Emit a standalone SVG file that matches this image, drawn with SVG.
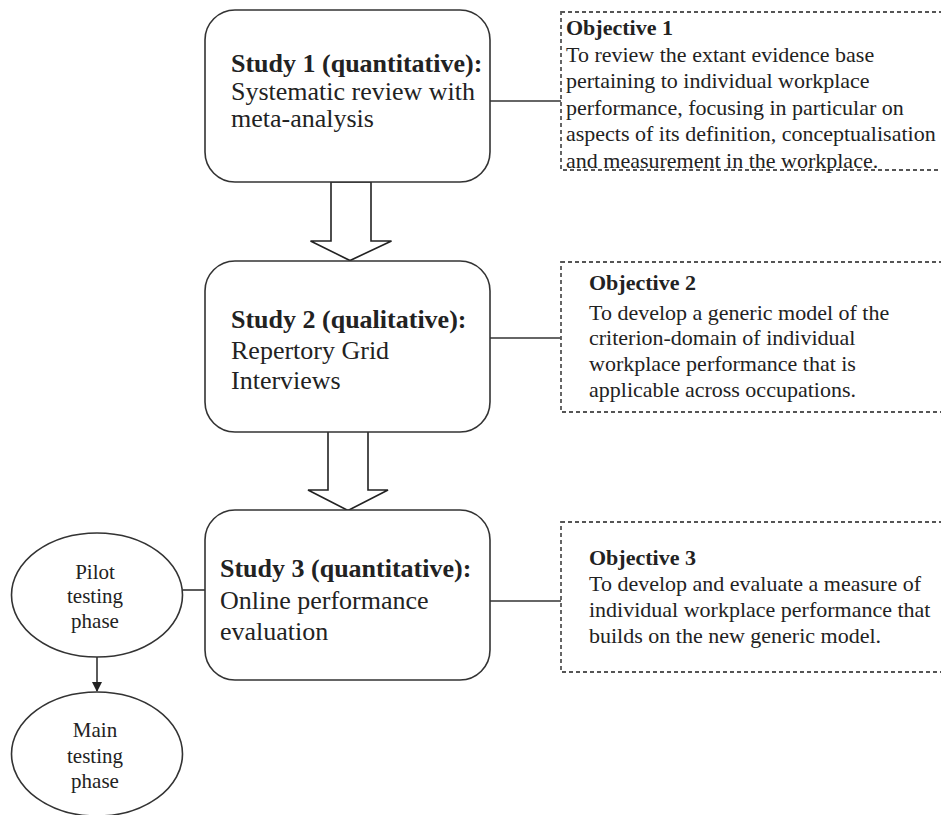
<svg xmlns="http://www.w3.org/2000/svg" width="941" height="815" viewBox="0 0 941 815">
<style>
  .box { fill: #fff; stroke: #333; stroke-width: 1.6; }
  .obj { fill: #fff; stroke: #555; stroke-width: 1.8; stroke-dasharray: 4 3; }
  .conn { fill: none; stroke: #333; stroke-width: 1.6; }
  .barrow { fill: #fff; stroke: #222; stroke-width: 1.6; stroke-linejoin: miter; }
  .t { font-family: "Liberation Serif", "Times New Roman", serif; fill: #222; }
  .h { font-size: 26px; font-weight: bold; }
  .b { font-size: 26px; }
  .oh { font-size: 22px; font-weight: bold; }
  .ob { font-size: 22px; }
  .e { font-size: 21px; text-anchor: middle; }
</style>
<defs>
  <marker id="ah" markerWidth="10" markerHeight="10" refX="9" refY="5" orient="auto" markerUnits="userSpaceOnUse">
    <path d="M0,0 L10,5 L0,10 Z" fill="#222"/>
  </marker>
</defs>
<rect width="941" height="815" fill="#fff"/>

<g id="connectors">
  <line class="conn" x1="490" y1="101" x2="561" y2="101"/>
  <line class="conn" x1="490" y1="338" x2="561" y2="338"/>
  <line class="conn" x1="490" y1="601" x2="561" y2="601"/>
  <line class="conn" x1="183" y1="590" x2="205" y2="590"/>
  <line class="conn" x1="97" y1="657" x2="97" y2="691" marker-end="url(#ah)"/>
  <path class="barrow" d="M331,182 L371,182 L371,241 L391.5,241 L350,260.5 L310.5,241 L331,241 Z"/>
  <path class="barrow" d="M328,431 L368,431 L368,490 L388,490 L348,510.5 L308,490 L328,490 Z"/>
</g>

<g id="study1">
  <rect class="box" x="205" y="10" width="285" height="172" rx="30" ry="30"/>
  <text class="t h" x="231" y="72">Study 1 (quantitative):</text>
  <text class="t b" x="231" y="100">Systematic review with</text>
  <text class="t b" x="231" y="127">meta-analysis</text>
</g>

<g id="study2">
  <rect class="box" x="205" y="261" width="285" height="171" rx="30" ry="30"/>
  <text class="t h" x="231" y="328">Study 2 (qualitative):</text>
  <text class="t b" x="231" y="359">Repertory Grid</text>
  <text class="t b" x="231" y="389">Interviews</text>
</g>

<g id="study3">
  <rect class="box" x="205" y="510" width="285" height="170" rx="30" ry="30"/>
  <text class="t h" x="220" y="577">Study 3 (quantitative):</text>
  <text class="t b" x="220" y="609">Online performance</text>
  <text class="t b" x="220" y="640">evaluation</text>
</g>

<g id="objective1">
  <rect class="obj" x="561" y="12" width="400" height="158"/>
  <text class="t oh" x="566" y="35">Objective 1</text>
  <text class="t ob" x="566" y="62">To review the extant evidence base</text>
  <text class="t ob" x="566" y="88">pertaining to individual workplace</text>
  <text class="t ob" x="566" y="115">performance, focusing in particular on</text>
  <text class="t ob" x="566" y="141">aspects of its definition, conceptualisation</text>
  <text class="t ob" x="566" y="168">and measurement in the workplace.</text>
</g>

<g id="objective2">
  <rect class="obj" x="561" y="262" width="400" height="150"/>
  <text class="t oh" x="589" y="290">Objective 2</text>
  <text class="t ob" x="589" y="320">To develop a generic model of the</text>
  <text class="t ob" x="589" y="345">criterion-domain of individual</text>
  <text class="t ob" x="589" y="371">workplace performance that is</text>
  <text class="t ob" x="589" y="397">applicable across occupations.</text>
</g>

<g id="objective3">
  <rect class="obj" x="561" y="522" width="400" height="150"/>
  <text class="t oh" x="589" y="565">Objective 3</text>
  <text class="t ob" x="589" y="591">To develop and evaluate a measure of</text>
  <text class="t ob" x="589" y="617">individual workplace performance that</text>
  <text class="t ob" x="589" y="643">builds on the new generic model.</text>
</g>

<g id="pilot">
  <ellipse class="box" cx="97" cy="595" rx="85.5" ry="62"/>
  <text class="t e" x="95" y="579">Pilot</text>
  <text class="t e" x="95" y="603">testing</text>
  <text class="t e" x="95" y="628">phase</text>
</g>

<g id="main">
  <ellipse class="box" cx="97" cy="754" rx="85.5" ry="62"/>
  <text class="t e" x="95" y="737">Main</text>
  <text class="t e" x="95" y="763">testing</text>
  <text class="t e" x="95" y="788">phase</text>
</g>
</svg>
